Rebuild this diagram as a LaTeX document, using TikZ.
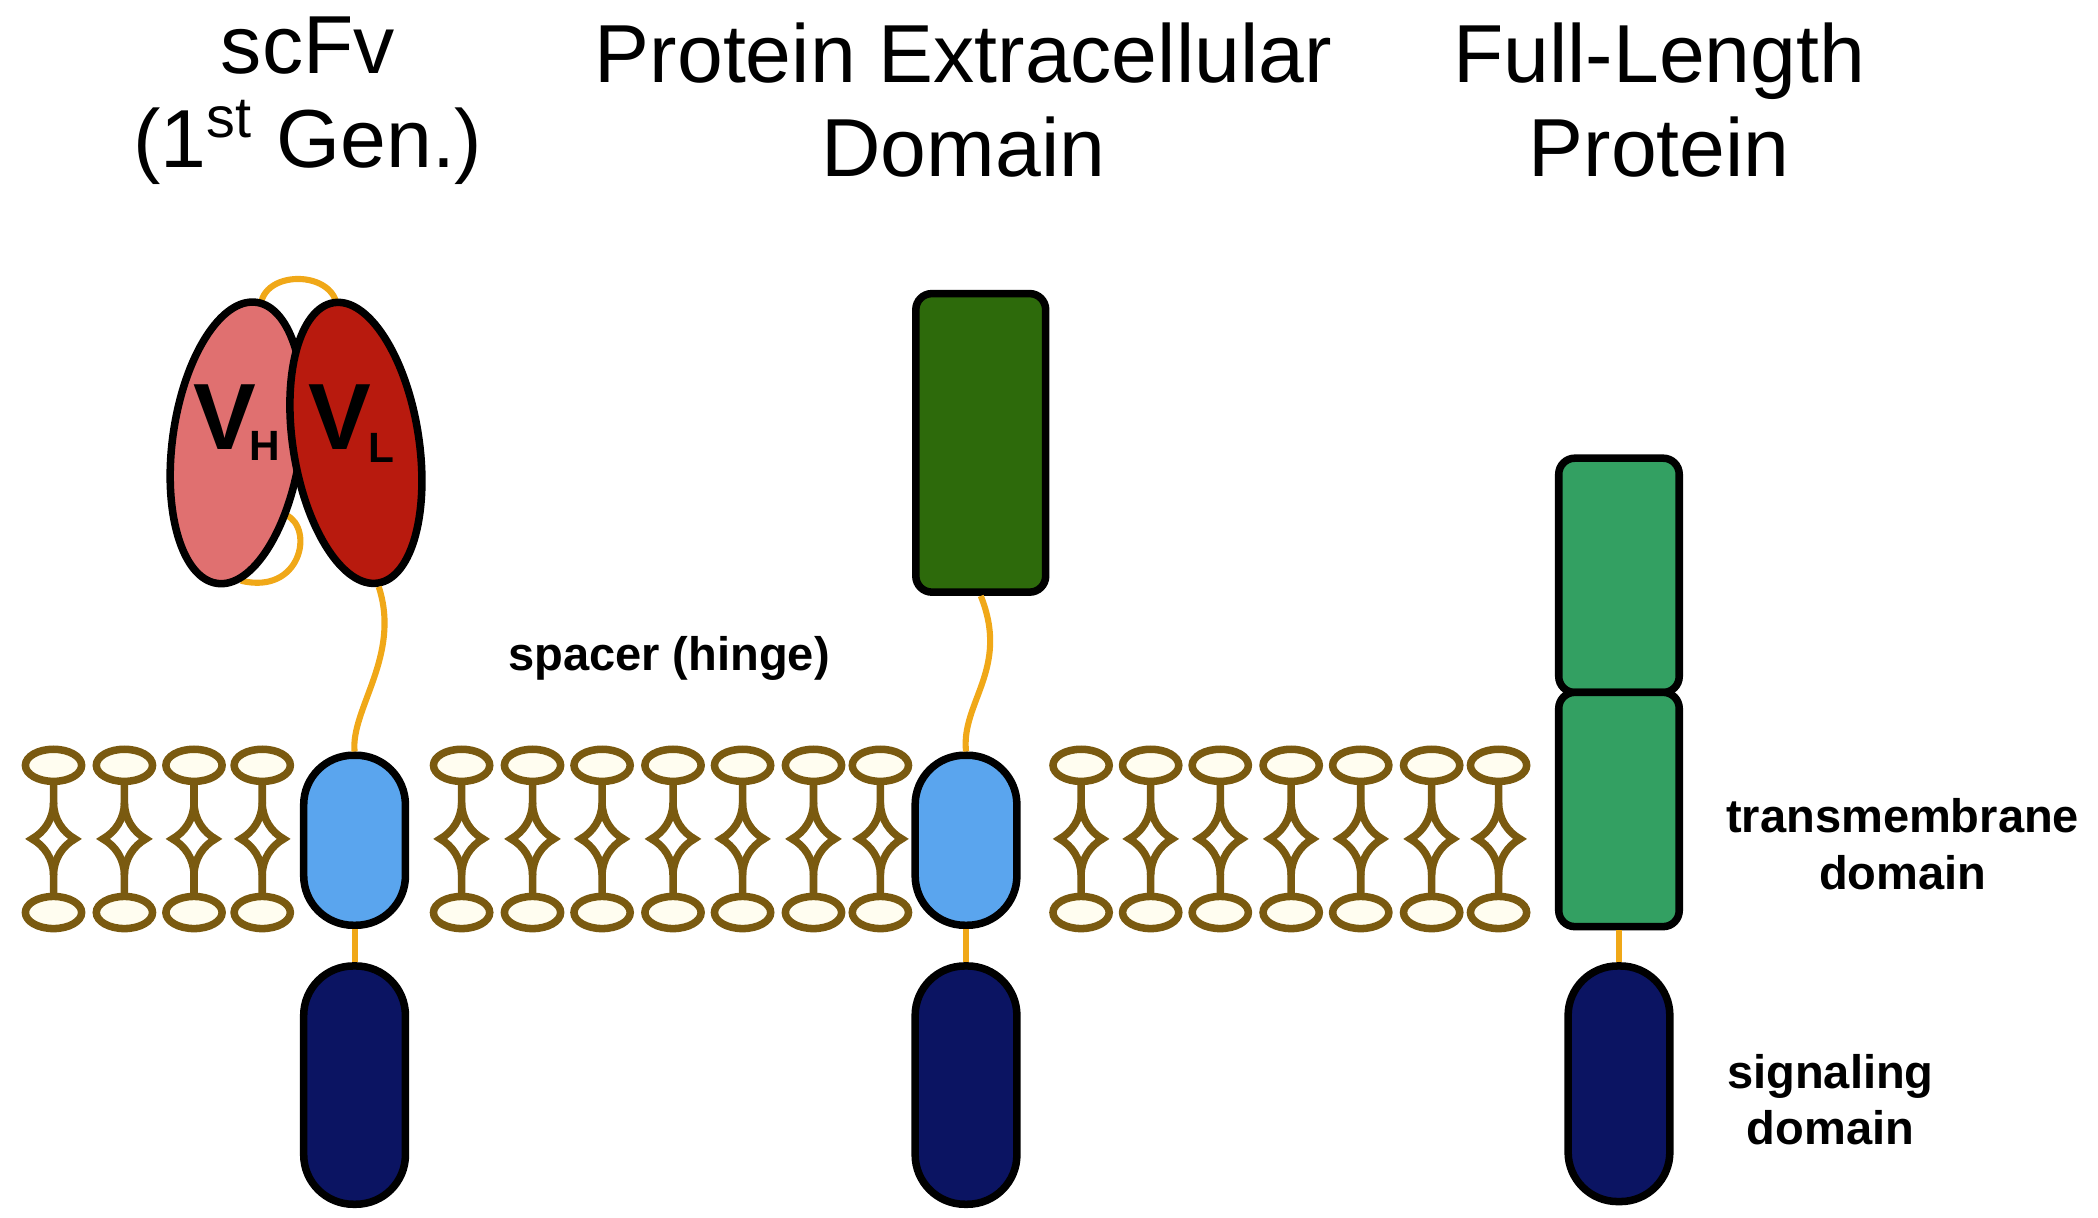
\documentclass[tikz,border=0pt]{standalone}
\usepackage{fontspec}
\setmainfont{Liberation Sans}
\usetikzlibrary{shapes.geometric}

\definecolor{lipidbrown}{HTML}{7A5A10}
\definecolor{headfill}{HTML}{FFFDF0}
\definecolor{tmblue}{HTML}{5AA5EE}
\definecolor{signavy}{HTML}{0B1462}
\definecolor{spacerorange}{HTML}{F0A818}
\definecolor{ecdgreen}{HTML}{2D6A0B}
\definecolor{flgreen}{HTML}{33A062}
\definecolor{vhpink}{HTML}{E07070}
\definecolor{vlred}{HTML}{B81A0E}

\begin{document}
\begin{tikzpicture}[x=0.01cm, y=-0.01cm,
	lipid/.style={draw=lipidbrown, line width=1.6pt},
	spacer/.style={draw=spacerorange, line width=1.3pt},
	pill/.style={draw=black, line width=1.6pt, minimum width=0.76cm, rounded corners=0.37cm, inner sep=0pt},
	box/.style={draw=black, line width=1.6pt, rounded corners=0.12cm, inner sep=0pt},
	title/.style={font=\fontsize{17.5}{20}\selectfont, align=center},
	label/.style={font=\fontsize{10}{12}\selectfont\bfseries, align=center}]

\useasboundingbox (0,0) rectangle (1568,910);

%% Titel
\node[title] (t1) at (230,75) {scFv\\(1\textsuperscript{st} Gen.)};
\node[title] (t2) at (720,75) {Protein Extracellular\\Domain};
\node[title] (t3) at (1240,75) {Full-Length\\Protein};

%% Membran
\foreach \x in {40,93,145,196, 345,398,450,503,555,608,658, 808,860,912,965,1017,1070,1120} {
	\draw[lipid] (\x,584) -- (\x,600) .. controls (\x,612) and ({\x-7},622) .. ({\x-16},627)
		.. controls ({\x-7},632) and (\x,642) .. (\x,654) -- (\x,670);
	\draw[lipid] (\x,600) .. controls (\x,612) and ({\x+7},622) .. ({\x+16},627)
		.. controls ({\x+7},632) and (\x,642) .. (\x,654);
	\draw[lipid, fill=headfill] (\x,572) ellipse [x radius=0.21cm, y radius=0.12cm];
	\draw[lipid, fill=headfill] (\x,682) ellipse [x radius=0.21cm, y radius=0.12cm];
}
%%%%%%%%%%%%%%%%

%% scFv
\begin{scope}
	\draw[spacer] (195,234) .. controls (190,200) and (255,200) .. (252,234);
	\draw[spacer] (180,434) .. controls (225,445) and (235,395) .. (214,385);
	\node[ellipse, draw=black, line width=1.6pt, fill=vhpink, minimum width=0.96cm, minimum height=2.12cm, rotate=-8] (vh) at (177,331) {};
	\node[ellipse, draw=black, line width=1.6pt, fill=vlred, minimum width=0.94cm, minimum height=2.12cm, rotate=9] (vl) at (266,331) {};
	\node[font=\fontsize{20}{20}\selectfont\bfseries] (vhv) at (168,312) {V};
	\node[font=\fontsize{9}{9}\selectfont\bfseries] (vhh) at (198,333) {H};
	\node[font=\fontsize{20}{20}\selectfont\bfseries] (vlv) at (254,312) {V};
	\node[font=\fontsize{9}{9}\selectfont\bfseries] (vll) at (285,335) {L};

	\node[pill, fill=tmblue, minimum height=1.27cm] (tm1) at (265,628) {};
	\node[pill, fill=signavy, minimum height=1.78cm] (sig1) at (265,811) {};
	\draw[spacer] (vl.south) .. controls (300,490) and (262,530) .. (tm1.north);
	\draw[spacer] (tm1.south) -- (sig1.north);
\end{scope}

%% Extrazellulaere Domaene
\begin{scope}
	\node[box, fill=ecdgreen, minimum width=0.97cm, minimum height=2.23cm] (ecd) at (733,331) {};
	\node[pill, fill=tmblue, minimum height=1.27cm] (tm2) at (722,628) {};
	\node[pill, fill=signavy, minimum height=1.78cm] (sig2) at (722,811) {};
	\draw[spacer] (ecd.south) .. controls (755,500) and (718,525) .. (tm2.north);
	\draw[spacer] (tm2.south) -- (sig2.north);
\end{scope}

%% Volllaenge
\begin{scope}
	\node[box, fill=flgreen, minimum width=0.9cm, minimum height=1.75cm] (fl1) at (1210,430) {};
	\node[box, fill=flgreen, minimum width=0.9cm, minimum height=1.75cm] (fl2) at (1210,605) {};
	\node[pill, fill=signavy, minimum height=1.76cm] (sig3) at (1210,810) {};
	\draw[spacer] (fl2.south) -- (sig3.north);
\end{scope}

%% Beschriftung
\node[label] (hinge) at (500,492) {spacer (hinge)};
\node[label] (tmlab) at (1422,631) {transmembrane\\domain};
\node[label] (siglab) at (1368,822) {signaling\\domain};

\end{tikzpicture}
\end{document}
